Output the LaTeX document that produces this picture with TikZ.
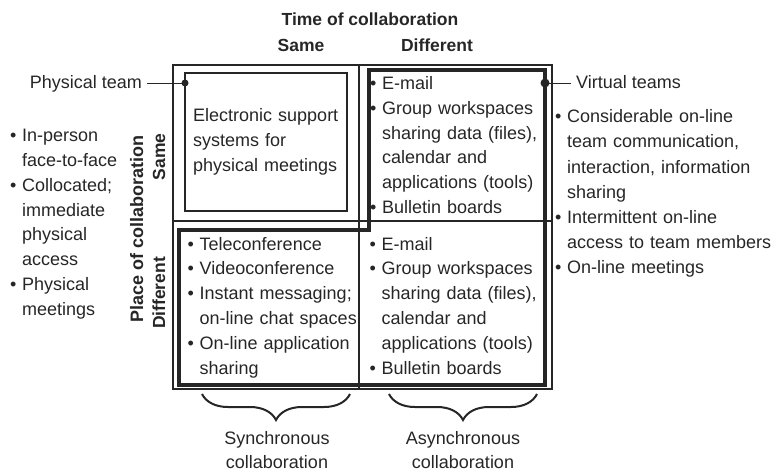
\documentclass[tikz,border=0pt]{standalone}
\usepackage{fontspec}
\setmainfont{Liberation Sans}
\usepackage{xcolor}
\usetikzlibrary{decorations.pathreplacing}
\definecolor{ink}{HTML}{262626}
\newcommand\itm{\makebox[12pt][l]{\textbullet}}
\newcommand\ind{\hspace*{12pt}}
\tikzset{
  celltext/.style={anchor=base west, inner sep=0pt, text width=230pt, align=left,
    font=\fontsize{18}{24.8}\selectfont, text=ink},
  lbl/.style={inner sep=0pt, font=\fontsize{18}{24.8}\selectfont, text=ink},
  hdtext/.style={inner sep=0pt, anchor=base, text=ink, font=\bfseries\fontsize{17.5}{20}\selectfont},
  thinline/.style={line width=1.3pt, draw=ink},
  bracket/.style={ink, line width=2pt, decorate, decoration={brace, mirror, amplitude=26pt}},
}

\begin{document}
\begin{tikzpicture}[x=1pt,y=-1pt]
\useasboundingbox (0,0) rectangle (773,472);
%
\node[hdtext] (time) at (370,25) {Time of collaboration};
\node[hdtext] (tsame) at (301,51.7) {Same};
\node[hdtext] (tdiff) at (437,51.7) {Different};
\node[hdtext, font=\bfseries\fontsize{18}{20}\selectfont, rotate=90] (place) at (143,229) {Place of collaboration};
\node[hdtext, rotate=90] (psame) at (165,157) {Same};
\node[hdtext, rotate=90] (pdiff) at (165,293) {Different};
%
\draw[ink, line width=1.8pt] (173,65) rectangle (552,389);
\draw[thinline] (359,65) -- (359,389);
\draw[thinline] (173,221) -- (552,221);
\draw[thinline] (185,73) rectangle (347,211);
\draw[ink, line width=4pt] (178.5,229.5) -- (368.5,229.5) -- (368.5,70) -- (545,70) -- (545,384.5) -- (178.5,384.5) -- cycle;
%
\coordinate (ptdot) at (185,83);
\coordinate (vtdot) at (545,83);
\fill[ink] (ptdot) circle (3.5pt);
\fill[ink] (vtdot) circle (4.5pt);
\node[lbl, anchor=base east, inner xsep=5pt] (ptlbl) at (147,88.3) {Physical team};
\node[lbl, anchor=base west, inner xsep=5pt] (vtlbl) at (571,88.3) {Virtual teams};
\draw[ink, line width=1pt] (ptlbl.east |- ptdot) -- (ptdot);
\draw[ink, line width=1pt] (vtdot) -- (vtdot -| vtlbl.west);
%
\node[celltext] (esys) at (193,121.7) {Electronic support\\systems for\\physical meetings};
\node[celltext] (samediff) at (370,89.5) {\itm E-mail\\\itm Group workspaces\\\ind sharing data (files),\\\ind calendar and\\\ind applications (tools)\\\itm Bulletin boards};
\node[celltext] (diffsame) at (187.5,250) {\itm Teleconference\\\itm Videoconference\\\itm Instant messaging;\\\ind on-line chat spaces\\\itm On-line application\\\ind sharing};
\node[celltext] (diffdiff) at (369.5,250) {\itm E-mail\\\itm Group workspaces\\\ind sharing data (files),\\\ind calendar and\\\ind applications (tools)\\\itm Bulletin boards};
%
\node[celltext] (physlist) at (10,141.7) {\itm In-person\\\ind face-to-face\\\itm Collocated;\\\ind immediate\\\ind physical\\\ind access\\\itm Physical\\\ind meetings};
\node[celltext, font=\fontsize{18}{25.2}\selectfont] (virtlist) at (555,122.7) {\itm Considerable on-line\\\ind team communication,\\\ind interaction, information\\\ind sharing\\\itm Intermittent on-line\\\ind access to team members\\\itm On-line meetings};
%
\draw[bracket] (202,394) -- (350,394);
\draw[bracket] (389,394) -- (537,394);
\node[lbl, anchor=base, text width=140pt, align=center] (sync) at (277,444) {Synchronous\\collaboration};
\node[lbl, anchor=base, text width=140pt, align=center] (async) at (463,444) {Asynchronous\\collaboration};
\end{tikzpicture}
\end{document}
